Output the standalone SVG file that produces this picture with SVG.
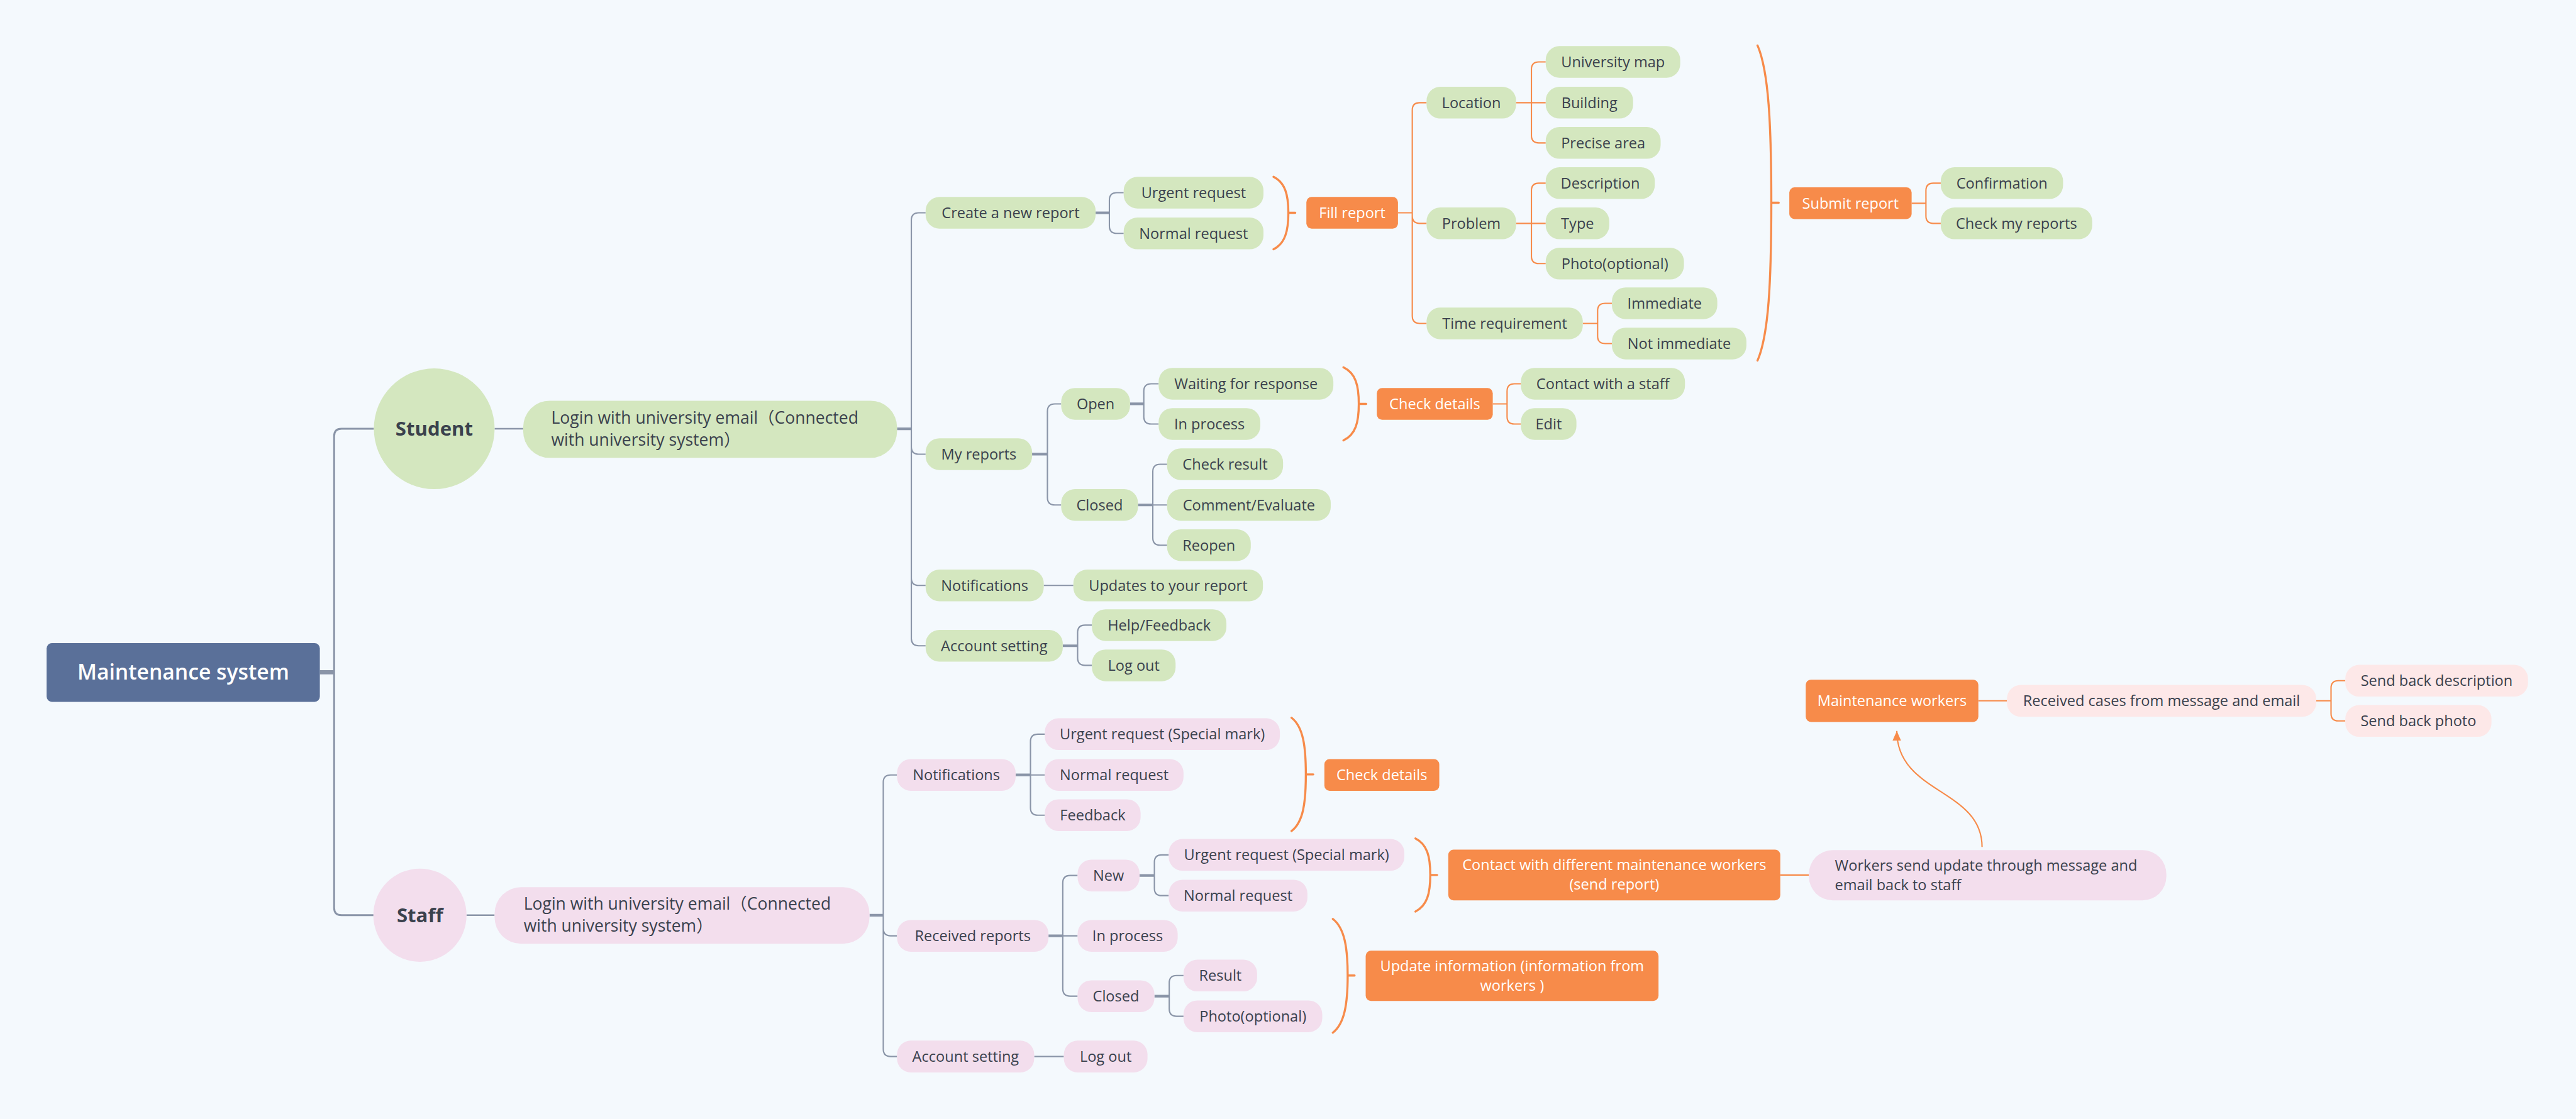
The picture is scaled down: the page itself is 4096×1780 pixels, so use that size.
<svg xmlns="http://www.w3.org/2000/svg" width="4096" height="1780" viewBox="0 0 4096 1780">
<defs>
<style>
.bg{fill:#F4F9FD}
.g{fill:#D4E7BF}
.p{fill:#F3DEED}
.lp{fill:#FDE8E8}
.o{fill:#F78B4A}
.t{font-family:'Open Sans','Noto Sans','Noto Sans CJK SC',sans-serif;font-size:28px;fill:#3A414D;text-anchor:middle}
.ts{text-anchor:start}
.tw{fill:#FFFFFF}
.tl{font-size:31.5px}
.tb{font-weight:700;font-size:37px}
.c{fill:none;stroke:#8A95A8;stroke-width:2.5}
.s{stroke-width:5}
.co{fill:none;stroke:#F78B4A;stroke-width:2.5}
.br{fill:none;stroke:#F78B4A;stroke-width:4;stroke-linecap:round}
</style>
<marker id="ah" markerUnits="userSpaceOnUse" markerWidth="20" markerHeight="20" refX="18" refY="8" orient="auto">
<path d="M0 0L18 8L0 16z" fill="#F78B4A"/>
</marker>
</defs>
<rect class="bg" x="0" y="0" width="4096" height="1780"/>
<g transform="scale(0.842)">
<g id="connectors">
<path class="c" d="M604 1270H631" style="stroke-width:8"/>
<path class="c" d="M631 1270V824Q631 810 645 810H706M631 1270V1715Q631 1729 645 1729H706" style="stroke-width:3.5"/>
<path class="c" d="M934 810H988M881 1729H934" style="stroke-width:3"/>
<path class="c s" d="M1694 810H1721M2069 402H2095M1949 858H1978M2134 763H2160M2149 954H2177M2007 1220H2035M1642 1729H1668M1918 1464H1946M1980 1768H2007M2152 1654H2180M2180 1882H2208"/>
<path class="c" d="M1721 810V416Q1721 402 1735 402H1748M1721 810V844Q1721 858 1735 858H1748M1721 810V1092Q1721 1106 1735 1106H1748M1721 810V1206Q1721 1220 1735 1220H1748"/>
<path class="c" d="M2095 402V378Q2095 364 2109 364H2122M2095 402V427Q2095 441 2109 441H2122"/>
<path class="c" d="M1978 858V777Q1978 763 1992 763H2004M1978 858V940Q1978 954 1992 954H2004"/>
<path class="c" d="M2160 763V739Q2160 725 2174 725H2188M2160 763V787Q2160 801 2174 801H2188"/>
<path class="c" d="M2177 954V891Q2177 877 2191 877H2204M2177 954H2204M2177 954V1016Q2177 1030 2191 1030H2204"/>
<path class="c" d="M1971 1106H2027"/>
<path class="c" d="M2035 1220V1195Q2035 1181 2049 1181H2062M2035 1220V1243Q2035 1257 2049 1257H2062"/>
<path class="c" d="M1668 1729V1478Q1668 1464 1682 1464H1694M1668 1729V1754Q1668 1768 1682 1768H1694M1668 1729V1982Q1668 1996 1682 1996H1694"/>
<path class="c" d="M1946 1464V1401Q1946 1387 1960 1387H1973M1946 1464H1973M1946 1464V1526Q1946 1540 1960 1540H1973"/>
<path class="c" d="M2007 1768V1668Q2007 1654 2021 1654H2035M2007 1768H2035M2007 1768V1868Q2007 1882 2021 1882H2035"/>
<path class="c" d="M2180 1654V1629Q2180 1615 2194 1615H2207M2180 1654V1678Q2180 1692 2194 1692H2207"/>
<path class="c" d="M2208 1882V1857Q2208 1843 2222 1843H2235M2208 1882V1906Q2208 1920 2222 1920H2235"/>
<path class="c" d="M1953 1996H2009"/>
<path class="co s" d="M2640 402H2667M2863 194H2892M2863 422H2892M2989 611H3017M3610 384H3637M2819 763H2846M4374 1324H4402"/>
<path class="co" d="M2667 402V208Q2667 194 2681 194H2694M2667 402V408Q2667 422 2681 422H2694M2667 402V597Q2667 611 2681 611H2694"/>
<path class="co" d="M2892 194V131Q2892 117 2906 117H2919M2892 194H2919M2892 194V256Q2892 270 2906 270H2919"/>
<path class="co" d="M2892 422V360Q2892 346 2906 346H2919M2892 422H2919M2892 422V484Q2892 498 2906 498H2919"/>
<path class="co" d="M3017 611V587Q3017 573 3031 573H3044M3017 611V635Q3017 649 3031 649H3044"/>
<path class="co" d="M3637 384V360Q3637 346 3651 346H3665M3637 384V408Q3637 422 3651 422H3665"/>
<path class="co" d="M2846 763V739Q2846 725 2860 725H2872M2846 763V787Q2846 801 2860 801H2872"/>
<path class="co" d="M3362 1653H3416M3736 1324H3790"/>
<path class="co" d="M4402 1324V1300Q4402 1286 4416 1286H4429M4402 1324V1348Q4402 1362 4416 1362H4429"/>
<path class="br" d="M2405 334C2427 345 2433 368 2433 402C2433 436 2427 460 2405 471M2433 402H2446"/>
<path class="br" d="M2537 694C2560 705 2566 728 2566 763C2566 798 2560 821 2537 832M2566 763H2580"/>
<path class="br" d="M3319 86C3340 134 3345 235 3345 383C3345 532 3340 633 3319 681M3345 383H3359"/>
<path class="br" d="M2439 1356C2461 1373 2466 1410 2466 1463C2466 1517 2461 1553 2439 1570M2466 1463H2480"/>
<path class="br" d="M2673 1584C2695 1595 2701 1618 2701 1653C2701 1688 2695 1711 2673 1722M2701 1653H2714"/>
<path class="br" d="M2517 1736C2539 1753 2545 1790 2545 1843C2545 1897 2539 1934 2517 1951M2545 1843H2558"/>
<path class="co" d="M3743 1600C3743 1490 3582 1500 3582 1381" marker-end="url(#ah)"/>
</g>
<g id="root"><rect x="88" y="1215" width="516" height="111" rx="10" fill="#5A7099"/><text class="t tw" x="346" y="1284" style="font-size:40px;font-weight:600">Maintenance system</text></g>
<g id="student"><circle class="g" cx="820" cy="810" r="114"/><text class="t tb" x="820" y="823">Student</text></g>
<g id="staff"><circle class="p" cx="793" cy="1729" r="88"/><text class="t tb" x="793" y="1742">Staff</text></g>
<g id="login-student"><rect class="g" x="988" y="757" width="706" height="108" rx="50"/><text class="t ts tl" x="1041" y="800">Login with university email（Connected</text><text class="t ts tl" x="1041" y="842">with university system）</text></g>
<g id="login-staff"><rect class="p" x="934" y="1676" width="708" height="107" rx="50"/><text class="t ts tl" x="989" y="1719">Login with university email（Connected</text><text class="t ts tl" x="989" y="1760">with university system）</text></g>
<g id="create"><rect class="g" x="1748" y="372" width="321" height="60" rx="26"/><text class="t" x="1908.5" y="412">Create a new report</text></g>
<g id="urgent1"><rect class="g" x="2122" y="334" width="264" height="60" rx="26"/><text class="t" x="2254" y="374">Urgent request</text></g>
<g id="normal1"><rect class="g" x="2122" y="411" width="264" height="60" rx="26"/><text class="t" x="2254" y="451">Normal request</text></g>
<g id="fill"><rect class="o" x="2467" y="372" width="173" height="60" rx="10"/><text class="t tw" x="2553.5" y="412">Fill report</text></g>
<g id="location"><rect class="g" x="2694" y="164" width="169" height="60" rx="26"/><text class="t" x="2778.5" y="204">Location</text></g>
<g id="univmap"><rect class="g" x="2919" y="87" width="254" height="60" rx="26"/><text class="t" x="3046" y="127">University map</text></g>
<g id="building"><rect class="g" x="2919" y="164" width="165" height="60" rx="26"/><text class="t" x="3001.5" y="204">Building</text></g>
<g id="precise"><rect class="g" x="2919" y="240" width="217" height="60" rx="26"/><text class="t" x="3027.5" y="280">Precise area</text></g>
<g id="problem"><rect class="g" x="2694" y="392" width="169" height="60" rx="26"/><text class="t" x="2778.5" y="432">Problem</text></g>
<g id="description"><rect class="g" x="2919" y="316" width="206" height="60" rx="26"/><text class="t" x="3022" y="356">Description</text></g>
<g id="type"><rect class="g" x="2919" y="392" width="120" height="60" rx="26"/><text class="t" x="2979" y="432">Type</text></g>
<g id="photo1"><rect class="g" x="2919" y="468" width="261" height="60" rx="26"/><text class="t" x="3049.5" y="508">Photo(optional)</text></g>
<g id="timereq"><rect class="g" x="2694" y="581" width="295" height="60" rx="26"/><text class="t" x="2841.5" y="621">Time requirement</text></g>
<g id="immediate"><rect class="g" x="3044" y="543" width="199" height="60" rx="26"/><text class="t" x="3143.5" y="583">Immediate</text></g>
<g id="notimmediate"><rect class="g" x="3044" y="619" width="254" height="60" rx="26"/><text class="t" x="3171" y="659">Not immediate</text></g>
<g id="submit"><rect class="o" x="3379" y="354" width="231" height="60" rx="10"/><text class="t tw" x="3494.5" y="394">Submit report</text></g>
<g id="confirmation"><rect class="g" x="3665" y="316" width="231" height="60" rx="26"/><text class="t" x="3780.5" y="356">Confirmation</text></g>
<g id="checkmy"><rect class="g" x="3665" y="392" width="286" height="60" rx="26"/><text class="t" x="3808" y="432">Check my reports</text></g>
<g id="myreports"><rect class="g" x="1748" y="828" width="201" height="60" rx="26"/><text class="t" x="1848.5" y="868">My reports</text></g>
<g id="open"><rect class="g" x="2004" y="733" width="130" height="60" rx="26"/><text class="t" x="2069" y="773">Open</text></g>
<g id="waiting"><rect class="g" x="2188" y="695" width="330" height="60" rx="26"/><text class="t" x="2353" y="735">Waiting for response</text></g>
<g id="inprocess1"><rect class="g" x="2188" y="771" width="192" height="60" rx="26"/><text class="t" x="2284" y="811">In process</text></g>
<g id="checkdetails1"><rect class="o" x="2600" y="733" width="219" height="60" rx="10"/><text class="t tw" x="2709.5" y="773">Check details</text></g>
<g id="contactstaff"><rect class="g" x="2872" y="695" width="310" height="60" rx="26"/><text class="t" x="3027" y="735">Contact with a staff</text></g>
<g id="edit"><rect class="g" x="2872" y="771" width="105" height="60" rx="26"/><text class="t" x="2924.5" y="811">Edit</text></g>
<g id="closed1"><rect class="g" x="2004" y="924" width="145" height="60" rx="26"/><text class="t" x="2076.5" y="964">Closed</text></g>
<g id="checkresult"><rect class="g" x="2204" y="847" width="219" height="60" rx="26"/><text class="t" x="2313.5" y="887">Check result</text></g>
<g id="comment"><rect class="g" x="2204" y="924" width="309" height="60" rx="26"/><text class="t" x="2358.5" y="964">Comment/Evaluate</text></g>
<g id="reopen"><rect class="g" x="2204" y="1000" width="158" height="60" rx="26"/><text class="t" x="2283" y="1040">Reopen</text></g>
<g id="notif1"><rect class="g" x="1748" y="1076" width="223" height="60" rx="26"/><text class="t" x="1859.5" y="1116">Notifications</text></g>
<g id="updates"><rect class="g" x="2027" y="1076" width="358" height="60" rx="26"/><text class="t" x="2206" y="1116">Updates to your report</text></g>
<g id="account1"><rect class="g" x="1748" y="1190" width="259" height="60" rx="26"/><text class="t" x="1877.5" y="1230">Account setting</text></g>
<g id="help"><rect class="g" x="2062" y="1151" width="254" height="60" rx="26"/><text class="t" x="2189" y="1191">Help/Feedback</text></g>
<g id="logout1"><rect class="g" x="2062" y="1227" width="158" height="60" rx="26"/><text class="t" x="2141" y="1267">Log out</text></g>
<g id="notif2"><rect class="p" x="1694" y="1434" width="224" height="60" rx="26"/><text class="t" x="1806" y="1474">Notifications</text></g>
<g id="urgent2"><rect class="p" x="1973" y="1357" width="444" height="60" rx="26"/><text class="t" x="2195" y="1397">Urgent request (Special mark)</text></g>
<g id="normal2"><rect class="p" x="1973" y="1434" width="262" height="60" rx="26"/><text class="t" x="2104" y="1474">Normal request</text></g>
<g id="feedback"><rect class="p" x="1973" y="1510" width="181" height="60" rx="26"/><text class="t" x="2063.5" y="1550">Feedback</text></g>
<g id="checkdetails2"><rect class="o" x="2501" y="1434" width="217" height="60" rx="10"/><text class="t tw" x="2609.5" y="1474">Check details</text></g>
<g id="received"><rect class="p" x="1694" y="1738" width="286" height="60" rx="26"/><text class="t" x="1837" y="1778">Received reports</text></g>
<g id="new"><rect class="p" x="2035" y="1624" width="117" height="60" rx="26"/><text class="t" x="2093.5" y="1664">New</text></g>
<g id="urgent3"><rect class="p" x="2207" y="1585" width="445" height="60" rx="26"/><text class="t" x="2429.5" y="1625">Urgent request (Special mark)</text></g>
<g id="normal3"><rect class="p" x="2207" y="1662" width="262" height="60" rx="26"/><text class="t" x="2338" y="1702">Normal request</text></g>
<g id="contactworkers"><rect class="o" x="2735" y="1605" width="627" height="96" rx="10"/><text class="t tw" x="3048.5" y="1644">Contact with different maintenance workers</text><text class="t tw" x="3048.5" y="1681">(send report)</text></g>
<g id="inprocess2"><rect class="p" x="2035" y="1738" width="189" height="60" rx="26"/><text class="t" x="2129.5" y="1778">In process</text></g>
<g id="closed2"><rect class="p" x="2035" y="1852" width="145" height="60" rx="26"/><text class="t" x="2107.5" y="1892">Closed</text></g>
<g id="result"><rect class="p" x="2235" y="1813" width="139" height="60" rx="26"/><text class="t" x="2304.5" y="1853">Result</text></g>
<g id="photo2"><rect class="p" x="2235" y="1890" width="262" height="60" rx="26"/><text class="t" x="2366" y="1930">Photo(optional)</text></g>
<g id="updateinfo"><rect class="o" x="2579" y="1796" width="553" height="95" rx="10"/><text class="t tw" x="2855.5" y="1835">Update information (information from</text><text class="t tw" x="2855.5" y="1872">workers )</text></g>
<g id="account2"><rect class="p" x="1694" y="1966" width="259" height="60" rx="26"/><text class="t" x="1823.5" y="2006">Account setting</text></g>
<g id="logout2"><rect class="p" x="2009" y="1966" width="158" height="60" rx="26"/><text class="t" x="2088" y="2006">Log out</text></g>
<g id="workerssend"><rect class="p" x="3416" y="1606" width="675" height="95" rx="45"/><text class="t ts" x="3465" y="1645">Workers send update through message and</text><text class="t ts" x="3465" y="1682">email back to staff</text></g>
<g id="maintworkers"><rect class="o" x="3410" y="1284" width="326" height="80" rx="10"/><text class="t tw" x="3573" y="1334">Maintenance workers</text></g>
<g id="receivedcases"><rect class="lp" x="3790" y="1294" width="584" height="60" rx="26"/><text class="t" x="4082" y="1334">Received cases from message and email</text></g>
<g id="senddesc"><rect class="lp" x="4429" y="1256" width="345" height="60" rx="26"/><text class="t" x="4601.5" y="1296">Send back description</text></g>
<g id="sendphoto"><rect class="lp" x="4429" y="1332" width="276" height="60" rx="26"/><text class="t" x="4567" y="1372">Send back photo</text></g>
</g>
</svg>
